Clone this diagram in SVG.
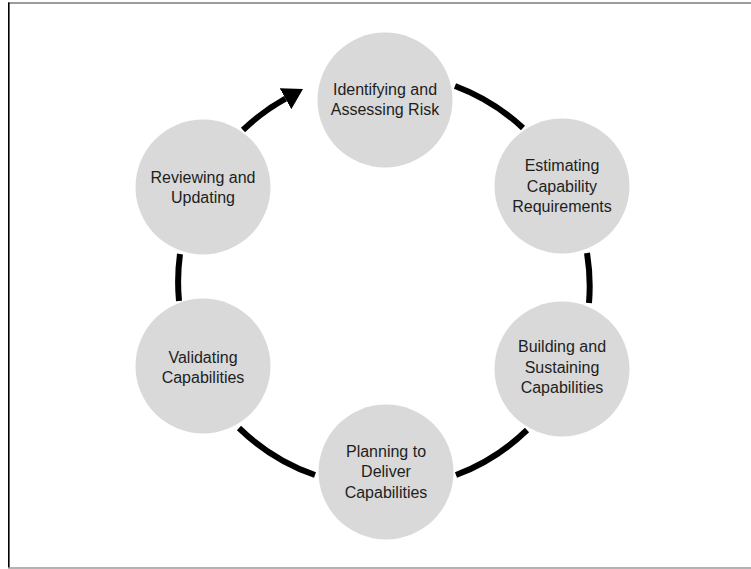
<svg xmlns="http://www.w3.org/2000/svg" width="751" height="569" viewBox="0 0 751 569">
  <style>
    .node circle { fill: #d9d9d9; }
    .node text { font-family: "Liberation Sans", Arial, sans-serif; font-size: 16px; fill: #1e1e1e; text-anchor: middle; }
    .arc { fill: none; stroke: #000; stroke-width: 6; }
  </style>
  <defs>
    <marker id="arrow" viewBox="0 0 20 24" refX="0" refY="12" markerWidth="20" markerHeight="24" markerUnits="userSpaceOnUse" orient="auto">
      <path d="M0,0 L20,12 L0,24 z" fill="#000"/>
    </marker>
  </defs>
  <rect width="751" height="569" fill="#fff"/>
  <g id="frame">
    <line x1="8" y1="3" x2="751" y2="3" stroke="#3a3a3a" stroke-width="1.2"/>
    <line x1="8.8" y1="2.5" x2="8.8" y2="568" stroke="#000" stroke-width="1.6"/>
    <line x1="8" y1="568" x2="751" y2="568" stroke="#9a9a9a" stroke-width="1.4"/>
  </g>
  <g id="connectors">
    <path class="arc" d="M455,86 A205,205 0 0 1 523,128"/>
    <path class="arc" d="M587,253 A205,205 0 0 1 589,303"/>
    <path class="arc" d="M527,430 A205,205 0 0 1 456,475"/>
    <path class="arc" d="M315,475 A205,205 0 0 1 239,428"/>
    <path class="arc" d="M179,301 A205,205 0 0 1 180,254"/>
    <path class="arc" d="M243,130 A205,205 0 0 1 285.5,98.7" marker-end="url(#arrow)"/>
  </g>
  <g id="node-identifying" class="node">
    <circle cx="385" cy="100" r="67.5"/>
    <text x="385" y="95">Identifying and</text>
    <text x="385" y="115">Assessing Risk</text>
  </g>
  <g id="node-estimating" class="node">
    <circle cx="562" cy="186" r="67.5"/>
    <text x="562" y="171">Estimating</text>
    <text x="562" y="192">Capability</text>
    <text x="562" y="212">Requirements</text>
  </g>
  <g id="node-building" class="node">
    <circle cx="562" cy="369" r="67.5"/>
    <text x="562" y="352">Building and</text>
    <text x="562" y="373">Sustaining</text>
    <text x="562" y="393">Capabilities</text>
  </g>
  <g id="node-planning" class="node">
    <circle cx="386" cy="472" r="67.5"/>
    <text x="386" y="457">Planning to</text>
    <text x="386" y="477">Deliver</text>
    <text x="386" y="498">Capabilities</text>
  </g>
  <g id="node-validating" class="node">
    <circle cx="203" cy="366" r="67.5"/>
    <text x="203" y="363">Validating</text>
    <text x="203" y="383">Capabilities</text>
  </g>
  <g id="node-reviewing" class="node">
    <circle cx="203" cy="187" r="67.5"/>
    <text x="203" y="183">Reviewing and</text>
    <text x="203" y="203">Updating</text>
  </g>
</svg>
